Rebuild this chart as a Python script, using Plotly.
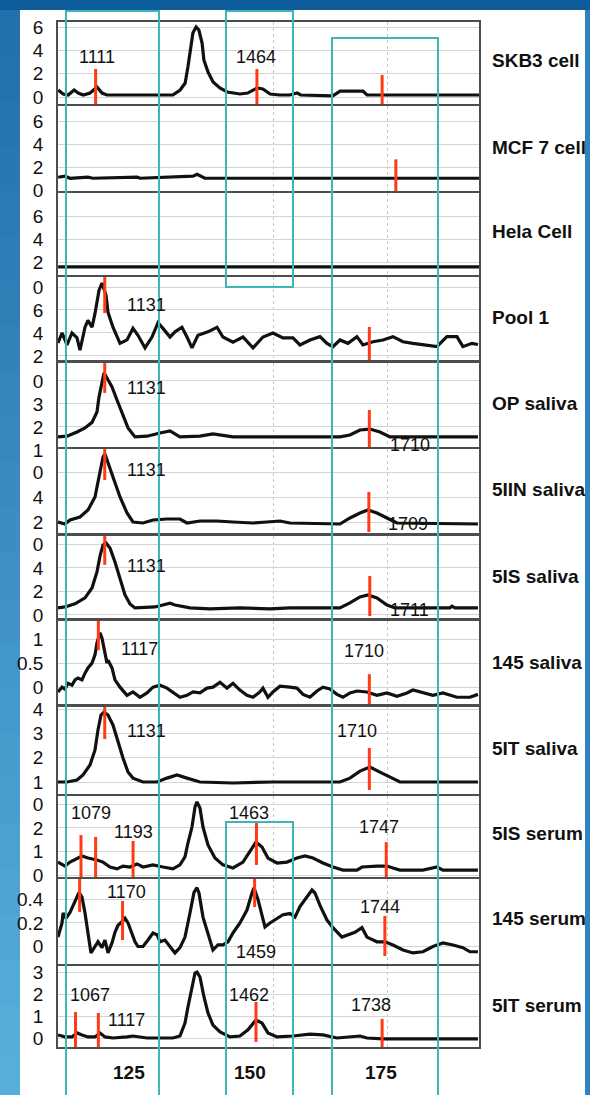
import plotly.graph_objects as go
from plotly.subplots import make_subplots

# ---------------- data (x in m/z / 10) ----------------
panel_names = ["SKB3 cell", "MCF 7 cell", "Hela Cell", "Pool 1", "OP saliva", "5IIN saliva",
               "5IS saliva", "145 saliva", "5IT saliva", "5IS serum", "145 serum", "5IT serum"]

skb3_x = [102.9, 104.0, 105.1, 106.4, 107.3, 108.4, 109.9, 111.4, 112.5, 113.6, 119.3, 125.2, 128.0, 129.6,
          130.7, 131.3, 132.0, 132.4, 133.1, 133.7, 134.4, 134.8, 135.7, 136.8, 138.3, 139.9, 142.7, 144.4,
          146.4, 147.7, 149.3, 151.4, 153.6, 155.2, 156.0, 163.0, 164.6, 169.6, 170.5, 195.0]
skb3_y = [0.6, 0.26, 0.17, 0.6, 0.34, 0.17, 0.34, 0.86, 0.34, 0.17, 0.17, 0.17, 0.17, 0.6,
          1.2, 2.57, 4.28, 5.5, 6.0, 5.74, 4.63, 3.17, 2.14, 1.29, 0.77, 0.43, 0.26, 0.34,
          0.77, 0.69, 0.26, 0.17, 0.17, 0.34, 0.17, 0.09, 0.5, 0.5, 0.17, 0.17]

mcf7_x = [102.9, 104.4, 105.5, 107.7, 109.4, 110.5, 120.2, 120.8, 132.4, 133.3, 134.4, 135.0, 195.0]
mcf7_y = [1.13, 1.22, 1.04, 1.13, 1.13, 1.04, 1.13, 1.04, 1.22, 1.39, 1.13, 1.04, 1.04]

hela_x = [102.9, 195.0]
hela_y = [1.57, 1.57]

pool1_x = [102.87, 103.75, 104.84, 105.93, 107.03, 107.68, 108.78, 109.43, 110.31, 110.97, 111.84, 112.50,
           113.37, 113.81, 114.90, 116.44, 117.97, 119.28, 120.37, 121.91, 123.44, 124.75, 125.84, 127.38,
           128.47, 130.0, 131.1, 132.19, 133.5, 135.69, 137.66, 138.97, 141.16, 143.35, 145.54, 147.72,
           149.91, 152.1, 154.29, 155.38, 155.82, 158.01, 160.2, 161.73, 163.04, 164.57, 166.32, 168.29,
           169.6, 171.79, 173.98, 176.17, 178.36, 180.54, 182.73, 185.8, 187.98, 190.17, 191.48, 193.45, 194.77]
pool1_y = [3.13, 4.0, 2.96, 4.0, 3.57, 2.5, 4.5, 5.1, 4.5, 5.7, 7.7, 8.35,
           7.3, 5.8, 4.5, 3.1, 3.4, 4.4, 3.8, 2.7, 3.65, 4.9, 4.4, 3.65,
           4.1, 4.5, 3.65, 2.7, 3.8, 4.1, 4.5, 3.65, 3.2, 3.65, 2.7, 3.65,
           4.0, 3.57, 3.57, 3.1, 2.96, 3.39, 3.68, 3.1, 2.81, 3.39, 3.1, 3.68,
           2.96, 3.24, 3.39, 3.68, 3.24, 3.1, 2.96, 2.81, 3.68, 3.68, 2.81, 3.1, 3.0]

op_x = [102.87, 104.84, 107.03, 108.78, 110.31, 111.4, 111.84, 112.5, 112.94, 113.59, 114.69, 115.78,
        116.87, 118.19, 119.72, 122.34, 125.19, 127.38, 129.56, 133.94, 136.78, 141.16, 145.54, 164.57,
        166.76, 168.95, 171.14, 173.32, 175.51, 194.77]
op_y = [1.57, 1.6, 1.78, 1.96, 2.2, 2.65, 3.3, 4.04, 4.35, 4.13, 3.74, 3.17,
        2.6, 1.96, 1.57, 1.6, 1.74, 1.83, 1.57, 1.6, 1.7, 1.57, 1.57, 1.57,
        1.65, 1.87, 1.91, 1.78, 1.57, 1.57]

s5iin_x = [102.87, 104.4, 105.5, 107.68, 109.43, 110.97, 111.84, 112.72, 113.15, 113.81, 114.9, 116.44,
           117.97, 119.28, 121.47, 123.66, 126.72, 129.56, 131.1, 133.94, 137.66, 141.16, 145.54, 148.6,
           151.44, 153.63, 164.57, 166.76, 168.95, 170.7, 172.67, 174.86, 177.05, 194.77]
s5iin_y = [2.0, 1.84, 2.16, 2.4, 2.96, 4.0, 5.6, 7.2, 7.44, 6.8, 5.6, 4.0,
           2.72, 2.0, 1.92, 2.16, 2.24, 2.24, 1.92, 2.08, 2.08, 2.0, 1.92, 2.0,
           2.08, 1.92, 1.84, 2.32, 2.72, 2.96, 2.72, 2.32, 1.92, 1.84]

s5is_x = [102.87, 104.4, 106.59, 108.78, 110.31, 111.4, 112.06, 112.72, 113.37, 114.25, 115.34, 116.44,
          117.53, 118.62, 119.72, 124.09, 126.28, 127.38, 128.47, 131.75, 136.13, 142.69, 149.26, 153.63,
          164.57, 166.76, 168.95, 170.7, 172.67, 174.86, 176.61, 188.64, 189.08, 189.74, 194.77]
s5is_y = [0.6, 0.68, 0.94, 1.45, 2.3, 3.66, 5.0, 5.96, 6.13, 5.7, 4.5, 2.98,
          1.7, 0.94, 0.6, 0.68, 0.94, 1.0, 0.85, 0.6, 0.52, 0.6, 0.52, 0.6,
          0.6, 1.02, 1.53, 1.7, 1.45, 0.85, 0.6, 0.6, 0.75, 0.6, 0.6]

s145_x = [102.87, 103.75, 104.4, 105.06, 105.93, 106.59, 107.25, 108.12, 108.78, 109.43, 110.31, 110.97,
          111.4, 112.06, 112.5, 112.94, 113.59, 113.81, 114.69, 115.34, 116.44, 117.97, 119.28, 120.81,
          122.34, 123.66, 125.19, 126.72, 128.03, 129.56, 131.1, 132.41, 133.94, 135.47, 136.78, 138.32,
          139.85, 141.16, 142.69, 144.22, 145.54, 147.07, 147.72, 148.82, 149.91, 151.44, 153.63, 155.16,
          156.48, 158.01, 159.54, 160.85, 162.38, 163.92, 165.23, 166.76, 168.29, 170.48, 172.67, 174.86,
          177.05, 179.23, 180.54, 182.73, 184.92, 187.11, 190.17, 193.02, 194.77]
s145_y = [-0.09, 0.01, -0.03, 0.09, 0.05, 0.16, 0.2, 0.16, 0.3, 0.41, 0.51, 0.68,
          0.93, 1.14, 1.03, 0.82, 0.51, 0.57, 0.41, 0.16, 0.01, -0.16, -0.09, -0.2,
          -0.11, 0.01, 0.05, -0.01, -0.09, -0.2, -0.16, -0.09, -0.11, -0.01, 0.01, 0.11,
          -0.01, 0.09, -0.05, -0.16, -0.2, -0.09, -0.01, -0.2, -0.09, 0.03, 0.01, -0.01,
          -0.14, -0.2, -0.07, 0.01, -0.03, -0.14, -0.2, -0.11, -0.07, -0.09, -0.16, -0.11,
          -0.18, -0.11, -0.05, -0.11, -0.16, -0.11, -0.2, -0.2, -0.14]

s5it_x = [102.87, 104.84, 107.03, 108.34, 109.87, 110.97, 111.62, 112.28, 112.94, 113.81, 114.9, 116.0,
          117.09, 118.19, 119.28, 121.47, 124.53, 126.72, 128.91, 131.1, 133.94, 141.16, 149.91, 164.57,
          166.76, 168.95, 171.14, 173.32, 175.51, 177.7, 194.77]
s5it_y = [1.0, 1.0, 1.08, 1.29, 1.7, 2.32, 3.14, 3.76, 3.88, 3.76, 3.35, 2.65,
          1.99, 1.41, 1.16, 1.0, 1.0, 1.16, 1.29, 1.16, 1.0, 0.96, 1.0, 1.0,
          1.16, 1.45, 1.62, 1.41, 1.2, 1.0, 1.0]

r5is_x = [102.87, 104.4, 105.5, 107.03, 108.12, 109.43, 111.4, 112.72, 114.25, 115.78, 117.09, 118.62,
          120.16, 121.47, 123.66, 125.84, 128.03, 129.56, 130.66, 131.31, 132.19, 132.85, 133.28, 133.94,
          134.6, 135.69, 137.22, 138.97, 141.16, 143.35, 144.88, 146.19, 147.51, 148.82, 150.79, 152.98,
          155.16, 156.91, 158.67, 160.85, 163.04, 165.23, 168.29, 169.39, 172.67, 174.86, 176.17, 177.7,
          182.73, 185.8, 187.11, 194.77]
r5is_y = [0.55, 0.38, 0.55, 0.72, 0.81, 0.72, 0.64, 0.55, 0.34, 0.26, 0.38, 0.34,
          0.47, 0.34, 0.43, 0.34, 0.26, 0.43, 0.77, 1.36, 2.04, 2.89, 3.11, 2.85,
          2.04, 1.28, 0.72, 0.43, 0.3, 0.55, 0.98, 1.4, 1.19, 0.72, 0.51, 0.55,
          0.72, 0.81, 0.72, 0.51, 0.34, 0.21, 0.21, 0.34, 0.38, 0.38, 0.3, 0.21,
          0.21, 0.34, 0.21, 0.21]

r145_x = [102.87, 103.75, 103.97, 104.62, 105.5, 106.15, 107.03, 107.47, 108.12, 108.78, 109.43, 110.09,
          110.97, 111.62, 112.5, 113.15, 113.81, 114.69, 115.34, 116.0, 116.87, 117.53, 118.19, 119.06,
          119.72, 120.37, 121.47, 122.56, 123.66, 124.53, 125.19, 126.28, 127.38, 128.47, 129.56, 130.66,
          131.75, 132.63, 133.28, 133.72, 134.6, 135.69, 136.78, 137.88, 138.97, 140.07, 141.16, 142.69,
          144.22, 145.32, 145.76, 146.63, 147.51, 148.16, 149.26, 150.79, 152.1, 153.63, 154.73, 155.82,
          157.35, 158.45, 159.1, 160.2, 161.73, 163.04, 165.01, 166.32, 167.85, 169.39, 170.48, 172.67,
          174.42, 176.17, 178.36, 180.54, 182.73, 184.92, 187.11, 189.3, 191.48, 193.02, 194.77]
r145_y = [0.08, 0.2, 0.285, 0.24, 0.29, 0.35, 0.42, 0.46, 0.42, 0.285, 0.115, -0.055,
          0.0, 0.04, -0.01, 0.055, -0.055, 0.03, 0.12, 0.18, 0.21, 0.24, 0.2, 0.115,
          0.04, 0.0, 0.0, 0.055, 0.115, 0.1, 0.04, 0.055, 0.0, -0.055, -0.01, 0.08,
          0.285, 0.46, 0.5, 0.455, 0.25, 0.115, -0.03, 0.013, 0.013, 0.04, 0.115, 0.2,
          0.31, 0.455, 0.5, 0.4, 0.25, 0.166, 0.2, 0.24, 0.27, 0.28, 0.25, 0.34,
          0.42, 0.48, 0.455, 0.35, 0.225, 0.16, 0.08, 0.1, 0.12, 0.16, 0.08, 0.04,
          0.04, 0.013, -0.03, -0.055, -0.045, 0.0, 0.03, 0.013, -0.01, -0.045, -0.045]

r5it_x = [102.87, 104.4, 105.93, 107.03, 108.12, 109.43, 110.97, 112.06, 113.15, 114.9, 117.97, 119.28,
          122.34, 125.19, 128.03, 129.56, 130.66, 131.31, 132.19, 132.85, 133.28, 133.94, 134.82, 135.69,
          136.78, 138.32, 140.51, 142.69, 144.44, 146.19, 147.51, 148.82, 150.79, 154.29, 158.01, 160.85,
          163.92, 167.42, 168.95, 170.48, 173.98, 194.77]
r5it_y = [0.16, 0.07, 0.07, 0.25, 0.16, 0.07, 0.07, 0.25, 0.07, 0.02, 0.07, 0.11,
          0.02, 0.02, 0.02, 0.11, 0.7, 1.43, 2.34, 2.98, 3.02, 2.8, 1.89, 1.16,
          0.61, 0.3, 0.07, 0.11, 0.39, 0.84, 0.7, 0.25, 0.07, 0.11, 0.2, 0.16,
          0.02, 0.07, 0.11, 0.02, -0.02, -0.02]

series_x = [skb3_x, mcf7_x, hela_x, pool1_x, op_x, s5iin_x, s5is_x, s145_x, s5it_x, r5is_x, r145_x, r5it_x]
series_y = [skb3_y, mcf7_y, hela_y, pool1_y, op_y, s5iin_y, s5is_y, s145_y, s5it_y, r5is_y, r145_y, r5it_y]

# red peak markers: panel, m/z/10, top, bottom
marker_panel = [1, 1, 1, 2, 4, 4, 5, 5, 6, 6, 7, 7, 8, 8, 9, 9, 10, 10, 10, 10, 10, 11, 11, 11, 11, 12, 12, 12, 12]
marker_x = [111.1, 146.4, 173.8, 176.8, 113.1, 171.0, 113.1, 171.0, 113.1, 170.9, 113.1, 171.1, 111.7, 171.0,
            113.1, 171.0, 107.9, 111.1, 119.3, 146.3, 174.7, 107.6, 117.0, 145.9, 174.4, 106.7, 111.7, 146.2, 173.8]
marker_top = [2.4, 2.4, 1.89, 2.7, 8.87, 4.52, 4.78, 2.74, 7.84, 4.4, 6.72, 3.32, 1.385, 0.28,
              4.09, 2.4, 1.70, 1.62, 1.45, 2.21, 1.40, 0.574, 0.387, 0.574, 0.26, 1.2, 1.16, 1.66, 0.89]
marker_bot = [-0.6, -0.6, -0.6, -0.08, 5.74, 1.65, 3.48, 1.13, 5.36, 1.2, 4.26, -0.09, 0.78, -0.34,
              2.77, 0.67, -0.085, -0.085, -0.085, 0.43, -0.085, 0.294, 0.055, 0.336, -0.081, -0.39, -0.39, -0.16, -0.39]

# peak labels: panel, text, x, y
label_panel = [1, 1, 1, 2, 4, 4, 5, 5, 6, 6, 7, 7, 8, 8, 9, 9, 10, 10, 10, 10, 11, 11, 11, 12, 12, 12, 12]
label_text = ["1111", "1464", "1738", "1768", "1131", "1710", "1131", "1710", "1131", "1709", "1131", "1711",
              "1117", "1710", "1131", "1710", "1079", "1193", "1463", "1747", "1170", "1459", "1744",
              "1067", "1117", "1462", "1738"]
label_x = [111.4, 146.2, 182.3, 185.1, 122.3, 179.2, 122.3, 179.9, 122.3, 179.5, 122.3, 179.7,
           120.8, 169.8, 122.3, 168.3, 110.1, 119.5, 144.7, 173.1, 117.75, 146.2, 173.3,
           109.9, 117.75, 144.7, 171.4]
label_y = [3.43, 3.43, -1.11, -0.09, 6.43, 1.48, 3.7, 1.22, 6.16, 1.84, 4.17, 0.43,
           0.80, 0.76, 3.1, 3.1, 2.64, 1.83, 2.64, 2.04, 0.464, -0.047, 0.336,
           1.98, 0.84, 1.98, 1.52]

y_tickvals = [[0, 2, 4, 6], [0, 2, 4, 6], [2, 4, 6], [2, 4, 6, 8], [2, 3, 4], [2, 4, 6, 7.76],
              [0, 2, 4, 6], [0, 0.5, 1], [1, 2, 3, 4], [0, 1, 2, 3], [0, 0.2, 0.4], [0, 1, 2, 3]]
y_ticktext = [["0", "2", "4", "6"], ["0", "2", "4", "6"], ["2", "4", "6"], ["2", "4", "6", "0"],
              ["2", "3", "0"], ["2", "4", "0", "1"], ["0", "2", "4", "0"], ["0", "0.5", "1"],
              ["1", "2", "3", "4"], ["0", "1", "2", "0"], ["0", "0.2", "0.4"], ["0", "1", "2", "3"]]
y_ranges = [[-0.6, 6.43], [-0.08, 7.39], [0.87, 8.0], [1.65, 8.87], [1.13, 4.78], [1.12, 7.84],
            [-0.26, 6.72], [-0.34, 1.385], [0.506, 4.09], [-0.085, 3.36], [-0.149, 0.574], [-0.39, 3.3]]

x_ticks = [125, 150, 175]
x_tick_text = ["125", "150", "175"]

# ---------------- layout geometry (pixels) ----------------
W, H = 590, 1095
ML, MR, MT, MB = 58, 111, 22, 48
PW = W - ML - MR
PH = H - MT - MB


def fy(p):
    return (H - MB - p) / PH


def fx(p):
    return (p - ML) / PW


panel_px = [(22, 104), (106, 191), (193, 275), (277, 360), (363, 447), (449, 533),
            (536, 618), (621, 704), (707, 794), (796, 877), (879, 964), (966, 1047)]
name_py = [60, 147, 232, 317, 403, 490, 576, 662, 748, 833, 918, 1005]
xlabel_px = [129, 250, 381]

FONT = "Liberation Sans, Arial, Helvetica, sans-serif"
BLACK = "#111111"
RED = "#ff3a14"
CYAN = "#3fb6b6"

n = len(panel_names)
fig = make_subplots(rows=n, cols=1, shared_xaxes=True, vertical_spacing=0.002)

for i in range(n):
    fig.add_trace(go.Scatter(x=series_x[i], y=series_y[i], mode="lines",
                             line=dict(color=BLACK, width=3.2), hoverinfo="skip",
                             showlegend=False), row=i + 1, col=1)

for i in range(n):
    mx, my = [], []
    for p, x, t, b in zip(marker_panel, marker_x, marker_top, marker_bot):
        if p == i + 1:
            mx += [x, x, None]
            my += [b, t, None]
    if mx:
        fig.add_trace(go.Scatter(x=mx, y=my, mode="lines", line=dict(color=RED, width=3),
                                 hoverinfo="skip", showlegend=False), row=i + 1, col=1)

for i in range(n):
    top, bot = panel_px[i]
    k = "" if i == 0 else str(i + 1)
    fig.layout["yaxis" + k].update(
        domain=[fy(bot), fy(top)], range=y_ranges[i], tickvals=y_tickvals[i], ticktext=y_ticktext[i],
        showline=True, mirror=True, linecolor="#4d4d4d", linewidth=1.5,
        showgrid=True, gridcolor="#d4d4d4", gridwidth=1, zeroline=False,
        ticks="", ticklabelstandoff=9, tickfont=dict(family=FONT, size=19, color=BLACK))
    fig.layout["xaxis" + k].update(
        range=[102.87, 195.0], tickvals=x_ticks, showticklabels=False,
        showline=True, mirror=True, linecolor="#4d4d4d", linewidth=1.5,
        showgrid=True, gridcolor="#c8c8c8", griddash="dot", gridwidth=1, zeroline=False, ticks="")

annotations = []
for p, t, x, y in zip(label_panel, label_text, label_x, label_y):
    k = "" if p == 1 else str(p)
    annotations.append(dict(x=x, y=y, xref="x" + k, yref="y" + k, text=t, showarrow=False,
                            font=dict(family=FONT, size=18, color=BLACK), xanchor="center", yanchor="middle"))
for name, p in zip(panel_names, name_py):
    annotations.append(dict(x=fx(490), y=fy(p), xref="paper", yref="paper", text="<b>" + name + "</b>",
                            showarrow=False, xanchor="left", yanchor="middle",
                            font=dict(family=FONT, size=19, color=BLACK)))
for t, p in zip(x_tick_text, xlabel_px):
    annotations.append(dict(x=fx(p), y=fy(1072), xref="paper", yref="paper", text="<b>" + t + "</b>",
                            showarrow=False, xanchor="center", yanchor="middle",
                            font=dict(family=FONT, size=19, color=BLACK)))

shapes = []
# slide background: blue frame around white area
shapes.append(dict(type="rect", xref="paper", yref="paper", x0=fx(-2), x1=fx(W + 2), y0=fy(10), y1=fy(-2),
                   fillcolor="#0d5c9b", line=dict(width=0), layer="below"))
nb = 24
c0, c1 = (34, 112, 172), (88, 174, 219)
for j in range(nb):
    t = j / (nb - 1)
    c = tuple(int(round(a + (b - a) * t)) for a, b in zip(c0, c1))
    y_top = 10 + (H - 10) * j / nb
    y_bot = 10 + (H - 10) * (j + 1) / nb + 1
    shapes.append(dict(type="rect", xref="paper", yref="paper", x0=fx(-2), x1=fx(20), y0=fy(y_bot), y1=fy(y_top),
                       fillcolor="rgb(%d,%d,%d)" % c, line=dict(width=0), layer="below"))
shapes.append(dict(type="rect", xref="paper", yref="paper", x0=fx(585), x1=fx(W + 2), y0=fy(H + 2), y1=fy(10),
                   fillcolor="#2f83bf", line=dict(width=0), layer="below"))

# cyan highlight boxes
boxes = [(66, 159, 11, 1110), (226, 293, 11, 287), (332, 438, 38, 1110), (226, 293, 822, 1110)]
for x0, x1, y0, y1 in boxes:
    shapes.append(dict(type="rect", xref="paper", yref="paper", x0=fx(x0), x1=fx(x1), y0=fy(y1), y1=fy(y0),
                       line=dict(color=CYAN, width=2), fillcolor="rgba(0,0,0,0)", layer="above"))

fig.update_layout(width=W, height=H, margin=dict(l=ML, r=MR, t=MT, b=MB, autoexpand=False),
                  paper_bgcolor="white", plot_bgcolor="white", showlegend=False,
                  annotations=annotations, shapes=shapes, font=dict(family=FONT, color=BLACK))

fig.write_html("out.html", config={"displayModeBar": False},
               post_script="document.body.style.margin='0';document.body.style.overflow='hidden';")
